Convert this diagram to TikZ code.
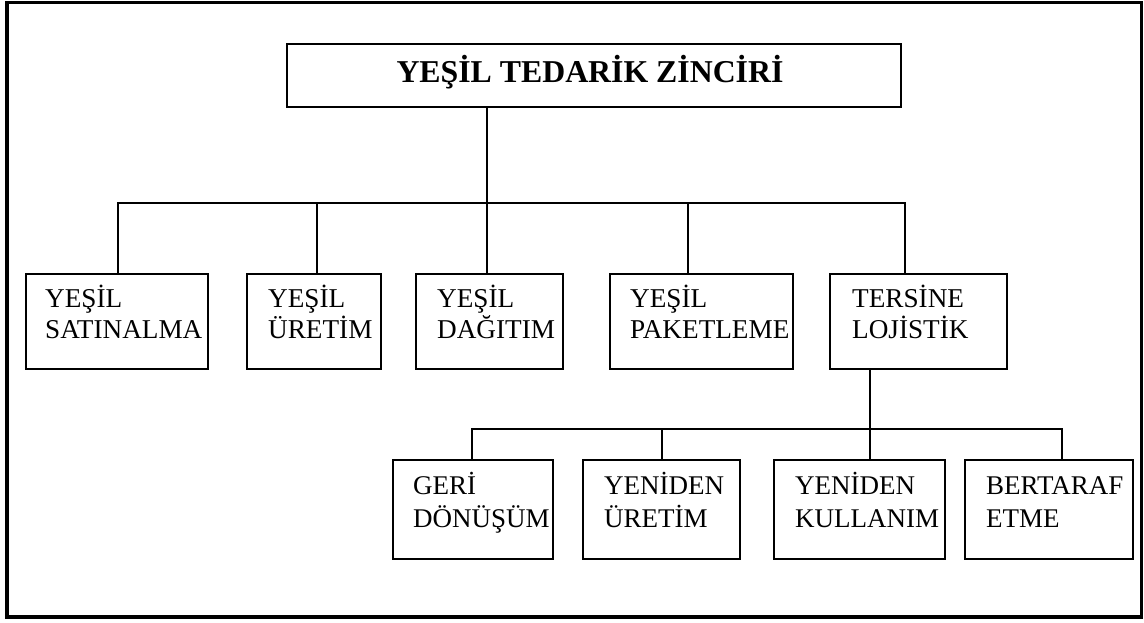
\documentclass[tikz,border=0pt]{standalone}
\usepackage{fontspec}
\setmainfont{Liberation Serif}
\begin{document}
\begin{tikzpicture}[x=1pt,y=-1pt,
  frame/.style={draw, line width=3.5pt},
  box/.style={draw, line width=2pt, anchor=north west, inner sep=0pt},
  link/.style={line width=1.6pt},
  lbl/.style={anchor=base west, inner sep=0pt, align=left,
              font=\fontsize{27.2}{31}\selectfont},
  lblb/.style={lbl, font=\fontsize{27}{33}\selectfont},
  titletext/.style={font=\fontsize{31.8}{36}\selectfont\bfseries}]
\useasboundingbox (0,0) rectangle (1144,622);
\draw[frame] (7,2.5) rectangle (1141.5,617);

% top box
\node[box, minimum width=614pt, minimum height=63pt] (title) at (286,43) {};
\node[titletext, anchor=base, inner sep=0pt] (titlelbl) at (590,82) {YEŞİL TEDARİK ZİNCİRİ};

% second level (label anchor = baseline of the last line)
\node[box, minimum width=182pt, minimum height=95pt] (s1) at (25,273) {};
\node[box, minimum width=134pt, minimum height=95pt] (s2) at (246,273) {};
\node[box, minimum width=147pt, minimum height=95pt] (s3) at (415,273) {};
\node[box, minimum width=183pt, minimum height=95pt] (s4) at (609,273) {};
\node[box, minimum width=177pt, minimum height=95pt] (s5) at (829,273) {};
\node[lbl] (t1) at (45,338) {YEŞİL\\SATINALMA};
\node[lbl] (t2) at (268,338) {YEŞİL\\ÜRETİM};
\node[lbl] (t3) at (437,338) {YEŞİL\\DAĞITIM};
\node[lbl] (t4) at (630,338) {YEŞİL\\PAKETLEME};
\node[lbl] (t5) at (852,338) {TERSİNE\\LOJİSTİK};

% third level
\node[box, minimum width=160pt, minimum height=99pt] (r1) at (392,459) {};
\node[box, minimum width=157pt, minimum height=99pt] (r2) at (582,459) {};
\node[box, minimum width=171pt, minimum height=99pt] (r3) at (773,459) {};
\node[box, minimum width=168pt, minimum height=99pt] (r4) at (964,459) {};
\node[lblb] (u1) at (413,527) {GERİ\\DÖNÜŞÜM};
\node[lblb] (u2) at (604,527) {YENİDEN\\ÜRETİM};
\node[lblb] (u3) at (795,527) {YENİDEN\\KULLANIM};
\node[lblb] (u4) at (986,527) {BERTARAF\\ETME};

% branch points
\coordinate (j0) at (487,203);
\coordinate (j1) at (118,203);
\coordinate (j2) at (317,203);
\coordinate (j4) at (688,203);
\coordinate (j5) at (905,203);
\coordinate (k0) at (870,429);
\coordinate (k1) at (472,429);
\coordinate (k2) at (662,429);
\coordinate (k4) at (1062,429);

% connectors, first level
\draw[link] (j0 |- title.south) -- (j0);
\draw[link] (j1 |- s1.north) -- (j1) -- (j5) -- (j5 |- s5.north);
\draw[link] (j2) -- (j2 |- s2.north);
\draw[link] (j0) -- (j0 |- s3.north);
\draw[link] (j4) -- (j4 |- s4.north);

% connectors, second level
\draw[link] (k0 |- s5.south) -- (k0 |- r3.north);
\draw[link] (k1 |- r1.north) -- (k1) -- (k4) -- (k4 |- r4.north);
\draw[link] (k2) -- (k2 |- r2.north);
\end{tikzpicture}
\end{document}
